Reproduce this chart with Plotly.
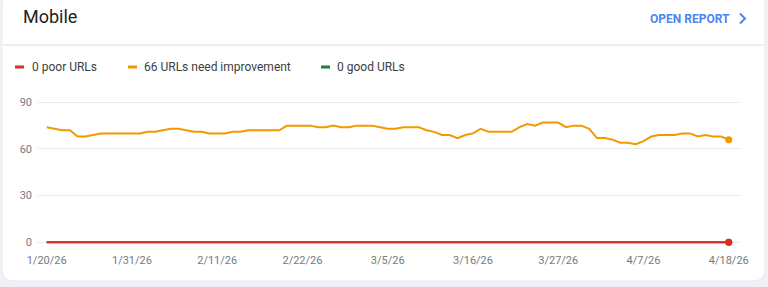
import plotly.graph_objects as go
import pandas as pd

# ---------------- data ----------------
start_date = "2026-01-20"
end_date = "2026-04-18"
dates = pd.date_range(start_date, end_date, freq="D").strftime("%Y-%m-%d").tolist()

need_improvement = [
    74, 73, 72, 72, 68, 68, 69, 70, 70, 70, 70, 70, 70, 71, 71, 72, 73, 73, 72, 71,
    71, 70, 70, 70, 71, 71, 72, 72, 72, 72, 72, 75, 75, 75, 75, 74, 74, 75, 74, 74,
    75, 75, 75, 74, 73, 73, 74, 74, 74, 72, 71, 69, 69, 67, 69, 70, 73, 71, 71, 71,
    71, 74, 76, 75, 77, 77, 77, 74, 75, 75, 73, 67, 67, 66, 64, 64, 63, 65, 68, 69,
    69, 69, 70, 70, 68, 69, 68, 68, 66,
]
poor = [
    0, 0, 0, 0, 0, 0, 0, 0, 0, 0, 0, 0, 0, 0, 0, 0, 0, 0, 0, 0,
    0, 0, 0, 0, 0, 0, 0, 0, 0, 0, 0, 0, 0, 0, 0, 0, 0, 0, 0, 0,
    0, 0, 0, 0, 0, 0, 0, 0, 0, 0, 0, 0, 0, 0, 0, 0, 0, 0, 0, 0,
    0, 0, 0, 0, 0, 0, 0, 0, 0, 0, 0, 0, 0, 0, 0, 0, 0, 0, 0, 0,
    0, 0, 0, 0, 0, 0, 0, 0, 0,
]
good = [
    0, 0, 0, 0, 0, 0, 0, 0, 0, 0, 0, 0, 0, 0, 0, 0, 0, 0, 0, 0,
    0, 0, 0, 0, 0, 0, 0, 0, 0, 0, 0, 0, 0, 0, 0, 0, 0, 0, 0, 0,
    0, 0, 0, 0, 0, 0, 0, 0, 0, 0, 0, 0, 0, 0, 0, 0, 0, 0, 0, 0,
    0, 0, 0, 0, 0, 0, 0, 0, 0, 0, 0, 0, 0, 0, 0, 0, 0, 0, 0, 0,
    0, 0, 0, 0, 0, 0, 0, 0, 0,
]

x_tick_vals = ["2026-01-20", "2026-01-31", "2026-02-11", "2026-02-22", "2026-03-05",
               "2026-03-16", "2026-03-27", "2026-04-07", "2026-04-18"]
x_tick_text = ["1/20/26", "1/31/26", "2/11/26", "2/22/26", "3/5/26",
               "3/16/26", "3/27/26", "4/7/26", "4/18/26"]
y_tick_vals = [0, 30, 60, 90]

series_names = ["0 poor URLs", "66 URLs need improvement", "0 good URLs"]
title_text = "Mobile"
link_text = "OPEN REPORT"

# ---------------- style ----------------
W, H = 768, 287
RED = "#d93025"
ORANGE = "#f29900"
GREEN = "#188038"
FONT = "Roboto"


def px(x):
    return x / W


def py(y):
    return 1 - y / H


fig = go.Figure()

for vals, color, name in [(good, GREEN, series_names[2]),
                          (need_improvement, ORANGE, series_names[1]),
                          (poor, RED, series_names[0])]:
    fig.add_trace(go.Scatter(
        x=dates, y=vals, mode="lines", name=name,
        line=dict(color=color, width=2), showlegend=False,
        hoverinfo="skip", cliponaxis=False,
    ))
    fig.add_trace(go.Scatter(
        x=[dates[-1]], y=[vals[-1]], mode="markers",
        marker=dict(color=color, size=7), showlegend=False,
        hoverinfo="skip", cliponaxis=False,
    ))

# card background with rounded corners
cx0, cy0, cx1, cy1, r = 2, -6, 765, 281, 12
card_path = (
    f"M {px(cx0 + r)},{py(cy0)} L {px(cx1 - r)},{py(cy0)} "
    f"Q {px(cx1)},{py(cy0)} {px(cx1)},{py(cy0 + r)} "
    f"L {px(cx1)},{py(cy1 - r)} Q {px(cx1)},{py(cy1)} {px(cx1 - r)},{py(cy1)} "
    f"L {px(cx0 + r)},{py(cy1)} Q {px(cx0)},{py(cy1)} {px(cx0)},{py(cy1 - r)} "
    f"L {px(cx0)},{py(cy0 + r)} Q {px(cx0)},{py(cy0)} {px(cx0 + r)},{py(cy0)} Z"
)
shapes = [
    dict(type="path", path=card_path, xref="paper", yref="paper",
         fillcolor="white", line=dict(color="#e8eaf0", width=1), layer="below"),
    # header divider
    dict(type="line", xref="paper", yref="paper", x0=px(cx0 + 1), x1=px(cx1 - 1),
         y0=py(45), y1=py(45), line=dict(color="#eceef1", width=2), layer="below"),
    # chevron
    dict(type="path", xref="paper", yref="paper",
         path=f"M {px(740)},{py(13.5)} L {px(745)},{py(18.5)} L {px(740)},{py(23.5)}",
         line=dict(color="#4a86f0", width=2)),
]

# legend swatches
for x0, color in [(15, RED), (128, ORANGE), (321, GREEN)]:
    shapes.append(dict(type="line", xref="paper", yref="paper",
                       x0=px(x0), x1=px(x0 + 9), y0=py(67), y1=py(67),
                       line=dict(color=color, width=3)))

annotations = [
    dict(text=title_text, x=px(21), y=py(17), xref="paper", yref="paper",
         xanchor="left", yanchor="middle", showarrow=False,
         font=dict(family=FONT, size=18, color="#202124")),
    dict(text=f"<b>{link_text}</b>", x=px(732), y=py(18.5), xref="paper", yref="paper",
         xanchor="right", yanchor="middle", showarrow=False,
         font=dict(family=FONT, size=12, color="#4a86f0")),
]
for x0, name in [(30, series_names[0]), (142, series_names[1]), (335, series_names[2])]:
    annotations.append(dict(text=name, x=px(x0), y=py(67), xref="paper", yref="paper",
                            xanchor="left", yanchor="middle", showarrow=False,
                            font=dict(family=FONT, size=12, color="#3c4043")))

fig.update_layout(
    width=W, height=H,
    margin=dict(l=0, r=0, t=0, b=0),
    paper_bgcolor="#eff1f6",
    plot_bgcolor="rgba(0,0,0,0)",
    font=dict(family=FONT, size=11, color="#80868b"),
    shapes=shapes,
    annotations=annotations,
    showlegend=False,
    xaxis=dict(
        type="date",
        domain=[px(37), px(740)],
        range=["2026-01-18 18:00", "2026-04-19 10:48"],
        tickvals=x_tick_vals, ticktext=x_tick_text,
        showgrid=False, zeroline=False, showline=False, ticks="",
        ticklabelstandoff=5,
        automargin=False, fixedrange=True,
        tickfont=dict(family=FONT, size=11, color="#757b80"),
    ),
    yaxis=dict(
        domain=[1 - 246.97 / H, 1 - 97.63 / H],
        range=[-3, 93],
        tickvals=y_tick_vals,
        showgrid=True, gridcolor="#e8eaed", gridwidth=1,
        zeroline=False, showline=False, ticks="",
        ticklabelstandoff=4,
        automargin=False, fixedrange=True,
        tickfont=dict(family=FONT, size=11, color="#757b80"),
    ),
)

fig.write_html("out.html", config={"displayModeBar": False})
